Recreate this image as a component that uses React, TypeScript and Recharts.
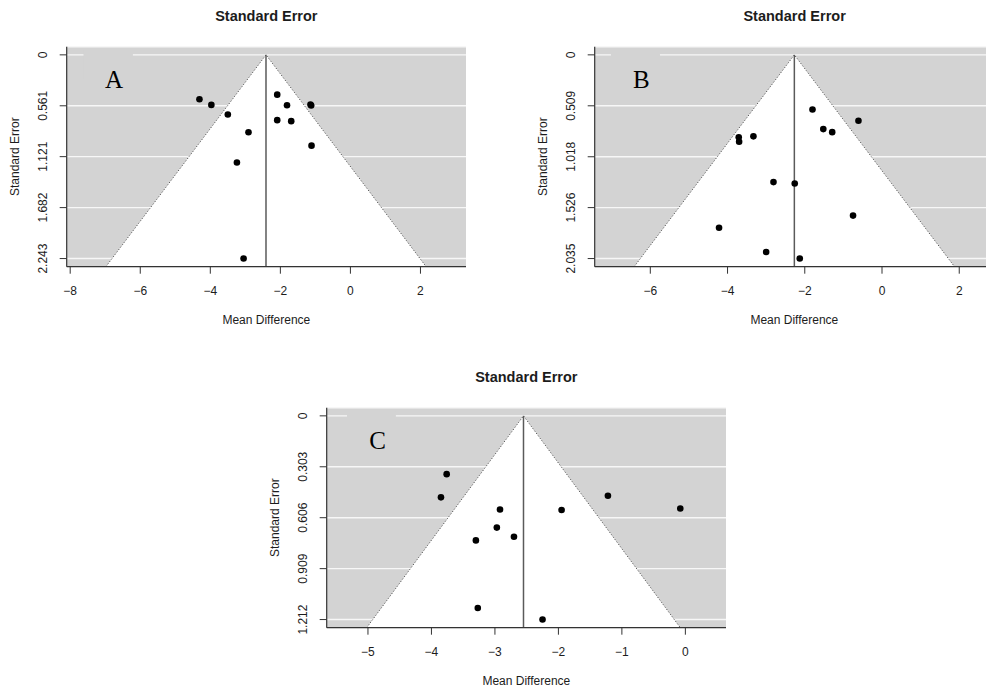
import React from 'react';
import {
  ScatterChart,
  Scatter,
  XAxis,
  YAxis,
  CartesianGrid,
  ReferenceArea,
  ReferenceLine,
} from 'recharts';

const SANS = '"Liberation Sans", Arial, Helvetica, sans-serif';
const SERIF = '"Liberation Serif", "Times New Roman", serif';
const TEXT = '#1c1c1c';
const AXIS = '#333333';
const PANEL_BG = '#d3d3d3';

// Panel A
const mdA = [-4.31, -3.97, -3.5, -2.91, -3.24, -3.05, -2.09, -1.81, -1.14, -1.12, -2.09, -1.69, -1.11];
const seA = [0.489, 0.551, 0.657, 0.853, 1.186, 2.243, 0.438, 0.555, 0.546, 0.558, 0.719, 0.73, 1.0];
const pooledA = -2.41;
const seTicksA = [0, 0.561, 1.121, 1.682, 2.243];
const mdTicksA = [-8, -6, -4, -2, 0, 2];
const mdDomainA: [number, number] = [-8.1, 3.3];
const tagBoxA: [number, number] = [-7.62, -6.21];

// Panel B
const mdB = [-1.8, -0.61, -1.52, -1.29, -3.71, -3.7, -3.33, -2.81, -2.26, -0.75, -4.22, -3.0, -2.13];
const seB = [0.546, 0.659, 0.742, 0.772, 0.824, 0.868, 0.814, 1.271, 1.285, 1.606, 1.728, 1.97, 2.035];
const pooledB = -2.27;
const seTicksB = [0, 0.509, 1.018, 1.526, 2.035];
const mdTicksB = [-6, -4, -2, 0, 2];
const mdDomainB: [number, number] = [-7.44, 2.9];
const tagBoxB: [number, number] = [-7.02, -5.75];

// Panel C
const mdC = [-3.76, -3.85, -2.92, -2.97, -2.7, -3.3, -3.27, -2.25, -1.95, -1.22, -0.08];
const seC = [0.347, 0.485, 0.557, 0.665, 0.719, 0.741, 1.143, 1.212, 0.56, 0.475, 0.551];
const pooledC = -2.55;
const seTicksC = [0, 0.303, 0.606, 0.909, 1.212];
const mdTicksC = [-5, -4, -3, -2, -1, 0];
const mdDomainC: [number, number] = [-5.65, 0.64];
const tagBoxC: [number, number] = [-5.33, -4.56];

const CHART_W = 480;
const CHART_H = 340;
const Y_AXIS_W = 66.7;
const X_AXIS_H = 73.3;
const MARGIN = { top: 46.7, right: 14, left: 0, bottom: 0 };

const fmtSE = (v: number) => (v === 0 ? '0' : v.toFixed(3));
const fmtMD = (v: number) => (v < 0 ? '\u2212' + Math.abs(v) : String(v));

function XTick(props: any) {
  const { x, y, payload } = props;
  return (
    <text x={x} y={y + 17.3} dy="0.35em" textAnchor="middle" fontFamily={SANS} fontSize={12} fill={TEXT}>
      {fmtMD(payload.value)}
    </text>
  );
}

function YTick(props: any) {
  const { x, y, payload } = props;
  return (
    <text
      x={0}
      y={0}
      transform={`translate(${x - 16.7},${y}) rotate(-90)`}
      dy="0.35em"
      textAnchor="middle"
      fontFamily={SANS}
      fontSize={12}
      fill={TEXT}
    >
      {fmtSE(payload.value)}
    </text>
  );
}

function XTitle(props: any) {
  const vb = props.viewBox || {};
  return (
    <text
      x={vb.x + vb.width / 2}
      y={vb.y + 53.3}
      dy="0.35em"
      textAnchor="middle"
      fontFamily={SANS}
      fontSize={12}
      fill={TEXT}
    >
      Mean Difference
    </text>
  );
}

function YTitle(props: any) {
  const vb = props.viewBox || {};
  const cx = vb.x + vb.width - 51.7;
  const cy = vb.y + vb.height / 2;
  return (
    <text
      x={0}
      y={0}
      transform={`translate(${cx},${cy}) rotate(-90)`}
      dy="0.35em"
      textAnchor="middle"
      fontFamily={SANS}
      fontSize={12}
      fill={TEXT}
    >
      Standard Error
    </text>
  );
}

// White pseudo-confidence region with dotted edges, apex at SE = 0
function FunnelShape(props: any) {
  const { x, y, width, height } = props;
  const apexX = x + width / 2;
  const pts = `${x},${y + height} ${apexX},${y} ${x + width},${y + height}`;
  return (
    <g>
      <polygon points={pts} fill="#ffffff" stroke="none" />
      <polyline
        points={pts}
        fill="none"
        stroke="#555555"
        strokeWidth={1}
        strokeDasharray="1.2 1.8"
      />
    </g>
  );
}

function makeTagShape(letter: string) {
  return function TagShape(props: any) {
    const { x, y, width, height } = props;
    return (
      <g>
        <rect x={x} y={y} width={width} height={height} fill={PANEL_BG} stroke="none" />
        <text x={x + 30.5} y={y + 37} textAnchor="middle" fontFamily={SERIF} fontSize={25} fill="#000">
          {letter}
        </text>
      </g>
    );
  };
}

function Dot(props: any) {
  return <circle cx={props.cx} cy={props.cy} r={3.3} fill="#000" />;
}

type PanelProps = {
  letter: string;
  md: number[];
  se: number[];
  pooled: number;
  seTicks: number[];
  mdTicks: number[];
  mdDomain: [number, number];
  tagBox: [number, number];
  left: number;
  top: number;
};

function FunnelPanel(p: PanelProps) {
  const data = p.md.map((m, i) => ({ md: m, se: p.se[i] }));
  const seMax = p.seTicks[p.seTicks.length - 1];
  const seDomain: [number, number] = [-0.04 * seMax, 1.04 * seMax];
  const seBottom = seDomain[1];
  const plotW = CHART_W - Y_AXIS_W - MARGIN.right;
  return (
    <div style={{ position: 'absolute', left: p.left, top: p.top, width: CHART_W, height: CHART_H }}>
      <div
        style={{
          position: 'absolute',
          left: Y_AXIS_W,
          width: plotW,
          top: 8.2,
          height: 17,
          lineHeight: '17px',
          textAlign: 'center',
          fontFamily: SANS,
          fontWeight: 'bold',
          fontSize: 14.5,
          color: TEXT,
        }}
      >
        Standard Error
      </div>
      <ScatterChart width={CHART_W} height={CHART_H} margin={MARGIN}>
        <CartesianGrid
          vertical={false}
          horizontal={true}
          stroke="#f7f7f7"
          strokeWidth={1.4}
          fill={PANEL_BG}
          fillOpacity={1}
        />
        <XAxis
          type="number"
          dataKey="md"
          domain={p.mdDomain}
          ticks={p.mdTicks}
          interval={0}
          allowDataOverflow
          height={X_AXIS_H}
          tickSize={7}
          tickMargin={0}
          axisLine={{ stroke: AXIS, strokeWidth: 1.2 }}
          tickLine={{ stroke: AXIS, strokeWidth: 1 }}
          tick={<XTick />}
          label={<XTitle />}
        />
        <YAxis
          type="number"
          dataKey="se"
          reversed
          domain={seDomain}
          ticks={p.seTicks}
          interval={0}
          allowDataOverflow
          width={Y_AXIS_W}
          tickSize={7}
          tickMargin={0}
          axisLine={{ stroke: AXIS, strokeWidth: 1.2 }}
          tickLine={{ stroke: AXIS, strokeWidth: 1 }}
          tick={<YTick />}
          label={<YTitle />}
        />
        <ReferenceArea
          x1={p.tagBox[0]}
          x2={p.tagBox[1]}
          y1={-0.02 * seMax}
          y2={0.12 * seMax}
          shape={makeTagShape(p.letter)}
        />
        <ReferenceArea
          x1={p.pooled - 1.96 * seBottom}
          x2={p.pooled + 1.96 * seBottom}
          y1={0}
          y2={seBottom}
          shape={<FunnelShape />}
        />
        <ReferenceLine
          segment={[
            { x: p.pooled, y: 0 },
            { x: p.pooled, y: seBottom },
          ]}
          stroke="#5a5a5a"
          strokeWidth={1.5}
        />
        <Scatter data={data} isAnimationActive={false} shape={<Dot />} />
      </ScatterChart>
    </div>
  );
}

export default function App() {
  return (
    <div
      style={{
        position: 'absolute',
        left: 0,
        top: 0,
        width: 986,
        height: 688,
        overflow: 'hidden',
        background: '#fff',
      }}
    >
      <FunnelPanel
        letter="A"
        md={mdA}
        se={seA}
        pooled={pooledA}
        seTicks={seTicksA}
        mdTicks={mdTicksA}
        mdDomain={mdDomainA}
        tagBox={tagBoxA}
        left={0}
        top={0}
      />
      <FunnelPanel
        letter="B"
        md={mdB}
        se={seB}
        pooled={pooledB}
        seTicks={seTicksB}
        mdTicks={mdTicksB}
        mdDomain={mdDomainB}
        tagBox={tagBoxB}
        left={528.3}
        top={0}
      />
      <FunnelPanel
        letter="C"
        md={mdC}
        se={seC}
        pooled={pooledC}
        seTicks={seTicksC}
        mdTicks={mdTicksC}
        mdDomain={mdDomainC}
        tagBox={tagBoxC}
        left={260}
        top={360.6}
      />
    </div>
  );
}
